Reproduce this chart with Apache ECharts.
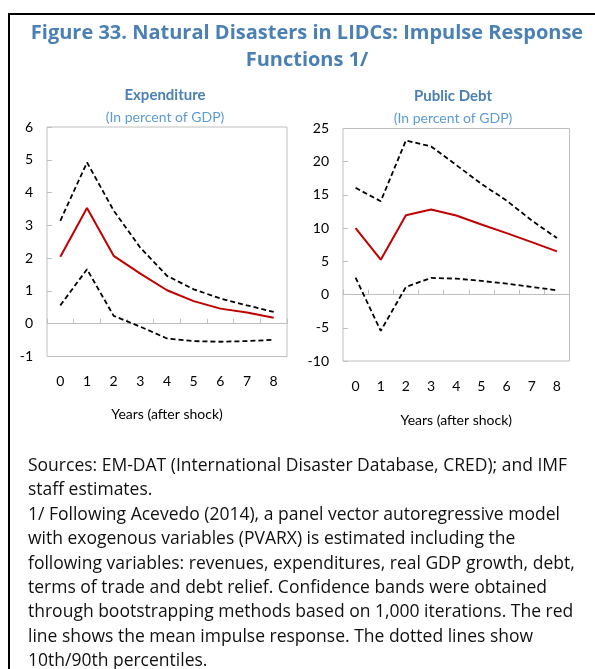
<!DOCTYPE html>
<html>
<head>
<meta charset="utf-8">
<script src="https://cdn.jsdelivr.net/npm/echarts@6/dist/echarts.min.js"></script>
<style>
  html, body { margin: 0; padding: 0; background: #fff; }
  #chart { width: 595px; height: 669px; }
</style>
</head>
<body>
<div id="chart"></div>
<script>
// Years after the shock (x axis categories)
const years = ['0', '1', '2', '3', '4', '5', '6', '7', '8'];

// Expenditure response (percent of GDP)
const expMean  = [2.04, 3.53, 2.07, 1.53, 1.02, 0.69, 0.46, 0.34, 0.18];
const expUpper = [3.14, 4.92, 3.45, 2.32, 1.46, 1.05, 0.77, 0.56, 0.36];
const expLower = [0.56, 1.66, 0.24, -0.09, -0.45, -0.53, -0.55, -0.53, -0.49];

// Public debt response (percent of GDP)
const debtMean  = [10.0, 5.25, 11.95, 12.8, 11.9, 10.55, 9.25, 7.9, 6.5];
const debtUpper = [16.07, 14.05, 23.2, 22.3, 19.5, 16.67, 14.15, 11.15, 8.5];
const debtLower = [2.55, -5.46, 1.15, 2.5, 2.4, 2.05, 1.65, 1.15, 0.65];

// Value axis ranges
const expAxis  = { min: -1,  max: 6,  interval: 1 };
const debtAxis = { min: -10, max: 25, interval: 5 };

const titleLines = [
  'Figure 33. Natural Disasters in LIDCs: Impulse Response',
  'Functions 1/'
];
const panelTitles = ['Expenditure', 'Public Debt'];
const panelUnit = '(In percent of GDP)';
const xName = 'Years (after shock)';
const noteLines = [
  'Sources: EM-DAT (International Disaster Database, CRED); and IMF',
  'staff estimates.',
  '1/ Following Acevedo (2014), a panel vector autoregressive model',
  'with exogenous variables (PVARX) is estimated including the',
  'following variables: revenues, expenditures, real GDP growth, debt,',
  'terms of trade and debt relief. Confidence bands were obtained',
  'through bootstrapping methods based on 1,000 iterations. The red',
  'line shows the mean impulse response. The dotted lines show',
  '10th/90th percentiles.'
];

const chartFont = 'Lato, "Liberation Sans", sans-serif';
const blue = '#4a80b4';
const lightBlue = '#5b9bd5';
const frameGray = '#bfbfbf';
const red = '#c00000';

const grids = [
  { left: 47, top: 127, width: 240, height: 229.5, show: true, borderColor: frameGray, borderWidth: 1 },
  { left: 343, top: 128.5, width: 226.5, height: 232.5, show: true, borderColor: frameGray, borderWidth: 1 }
];

function xAxes(gi, nameGap) {
  return [
    {
      type: 'category', gridIndex: gi, data: years, position: 'bottom',
      axisLine: { show: false, onZero: false }, axisTick: { show: false },
      axisLabel: { color: '#000', fontFamily: chartFont, fontSize: 14, margin: 18 },
      name: xName, nameLocation: 'middle', nameGap: nameGap,
      nameTextStyle: { color: '#000', fontFamily: chartFont, fontSize: 14 }
    },
    {
      type: 'category', gridIndex: gi, data: years, position: 'bottom',
      axisLine: { show: true, onZero: true, lineStyle: { color: frameGray, width: 1 } },
      axisTick: { show: true, inside: true, length: 5, interval: 0, lineStyle: { color: frameGray } },
      axisLabel: { show: false }
    }
  ];
}

function yAxis(gi, range) {
  return {
    type: 'value', gridIndex: gi, min: range.min, max: range.max, interval: range.interval,
    axisLine: { show: false },
    axisTick: { show: true, inside: true, length: 5, lineStyle: { color: frameGray } },
    splitLine: { show: false },
    axisLabel: { color: '#000', fontFamily: chartFont, fontSize: 14, margin: 14 }
  };
}

function lineSeries(xi, yi, values, dashed) {
  return {
    type: 'line', xAxisIndex: xi, yAxisIndex: yi, data: values,
    symbol: 'none', silent: true, animation: false,
    lineStyle: dashed
      ? { color: '#000', width: 1.8, type: [5, 3] }
      : { color: red, width: 2 }
  };
}

const graphic = [
  { type: 'rect', shape: { x: 9, y: 14, width: 620, height: 700 },
    style: { fill: 'none', stroke: '#000', lineWidth: 2 } },
  { type: 'text', x: 307, y: 33, style: { text: titleLines[0], fill: blue, font: 'bold 20px "Open Sans", sans-serif', textAlign: 'center', textVerticalAlign: 'middle' } },
  { type: 'text', x: 307, y: 60, style: { text: titleLines[1], fill: blue, font: 'bold 20px "Open Sans", sans-serif', textAlign: 'center', textVerticalAlign: 'middle' } },
  { type: 'text', x: 165, y: 95, style: { text: panelTitles[0], fill: blue, font: 'bold 15px Lato, sans-serif', textAlign: 'center', textVerticalAlign: 'middle' } },
  { type: 'text', x: 165, y: 117, style: { text: panelUnit, fill: lightBlue, font: '14px Lato, sans-serif', textAlign: 'center', textVerticalAlign: 'middle' } },
  { type: 'text', x: 453, y: 96, style: { text: panelTitles[1], fill: blue, font: 'bold 15px Lato, sans-serif', textAlign: 'center', textVerticalAlign: 'middle' } },
  { type: 'text', x: 453, y: 118, style: { text: panelUnit, fill: lightBlue, font: '14px Lato, sans-serif', textAlign: 'center', textVerticalAlign: 'middle' } }
];
noteLines.forEach(function (line, i) {
  graphic.push({ type: 'text', x: 28, y: 466 + i * 24.4,
    style: { text: line, fill: '#111', font: '17.5px "Open Sans", sans-serif', textAlign: 'left', textVerticalAlign: 'middle' } });
});

const chart = echarts.init(document.getElementById('chart'), null, { renderer: 'canvas' });
chart.setOption({
  animation: false,
  backgroundColor: '#fff',
  grid: grids,
  xAxis: xAxes(0, 51).concat(xAxes(1, 52)),
  yAxis: [yAxis(0, expAxis), yAxis(1, debtAxis)],
  series: [
    lineSeries(1, 0, expUpper, true),
    lineSeries(1, 0, expLower, true),
    lineSeries(1, 0, expMean, false),
    lineSeries(3, 1, debtUpper, true),
    lineSeries(3, 1, debtLower, true),
    lineSeries(3, 1, debtMean, false)
  ],
  graphic: graphic
});
</script>
</body>
</html>
